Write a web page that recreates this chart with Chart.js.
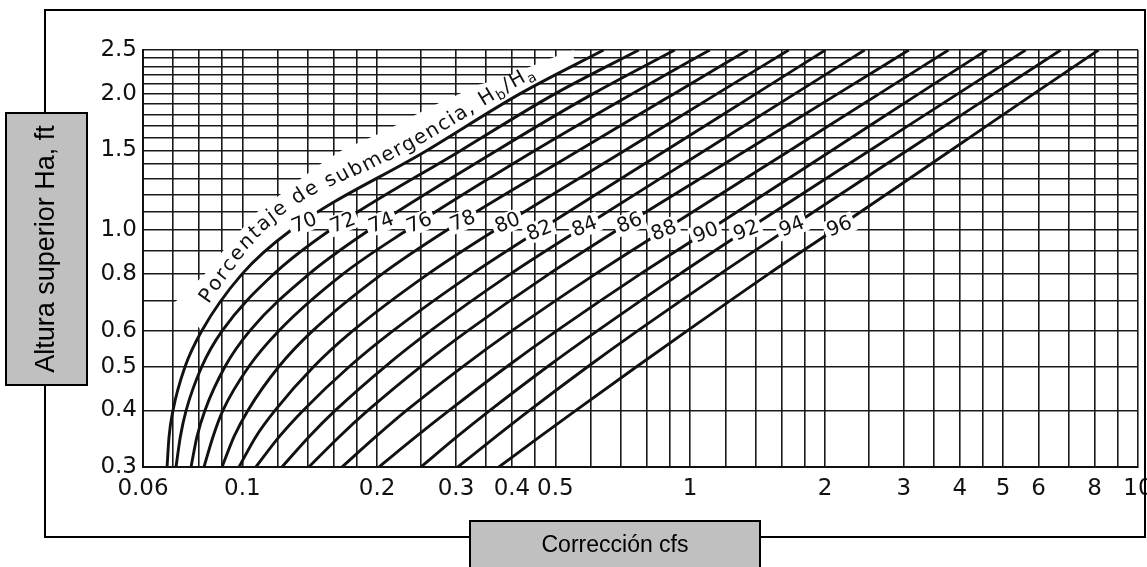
<!DOCTYPE html>
<html><head><meta charset="utf-8">
<script src="https://cdn.jsdelivr.net/npm/chart.js@4.4.1/dist/chart.umd.min.js"></script>
<style>html,body{margin:0;padding:0;background:#fff;}canvas{display:block;}</style>
</head><body>
<canvas id="c" width="1147" height="567"></canvas>
<script>
// ---- data ----
const yLevels = [0.3, 0.35, 0.4, 0.5, 0.6, 0.8, 1.0, 1.5, 2.0, 2.5];
const curve70X = [0.0679,0.0686,0.0700,0.0745,0.0812,0.0998,0.1284,0.2583,0.4165,0.641];
const curve72X = [0.0711,0.0727,0.0749,0.0812,0.0902,0.1175,0.1569,0.3076,0.4986,0.768];
const curve74X = [0.0768,0.0792,0.0825,0.0915,0.1040,0.1408,0.1917,0.370,0.606,0.924];
const curve76X = [0.0821,0.0860,0.0905,0.1034,0.1207,0.1677,0.233,0.450,0.741,1.106];
const curve78X = [0.0901,0.0958,0.1029,0.1207,0.1437,0.205,0.286,0.564,0.919,1.345];
const curve80X = [0.0983,0.1072,0.1183,0.1444,0.1766,0.2596,0.3663,0.7145,1.147,1.66];
const curve82X = [0.1072,0.1209,0.1367,0.1734,0.2172,0.3253,0.4603,0.882,1.401,2.005];
const curve84X = [0.1226,0.1409,0.1613,0.2084,0.2633,0.3965,0.5627,1.078,1.712,2.453];
const curve86X = [0.1408,0.1646,0.1907,0.2502,0.319,0.4835,0.686,1.333,2.135,3.078];
const curve88X = [0.1669,0.1986,0.2326,0.3107,0.4002,0.6137,0.8733,1.669,2.642,3.774];
const curve90X = [0.2018,0.2442,0.2897,0.390,0.504,0.7732,1.100,2.071,3.238,4.593];
const curve92X = [0.2504,0.3016,0.3572,0.4807,0.6214,0.947,1.333,2.517,3.957,5.612];
const curve94X = [0.3028,0.3682,0.4378,0.5914,0.7643,1.165,1.635,3.053,4.761,6.72];
const curve96X = [0.3739,0.4618,0.5558,0.7603,0.986,1.495,2.09,3.817,5.848,8.166];
const curveNames = ['70','72','74','76','78','80','82','84','86','88','90','92','94','96'];
const labelYs = [1.04,1.04,1.04,1.04,1.05,1.04,1.0,1.02,1.04,1.0,0.99,1.0,1.02,1.02];

// white band (upper edge) where the submergence caption sits
const bandTopX = [0.0812,0.0821,0.0896,0.0983,0.1078,0.121,0.1338,0.148,0.167,0.187,0.210,0.238,0.268,0.301,0.334,0.388,0.436,0.496,0.550];
const bandTopY = [0.6,0.796,0.890,0.990,1.096,1.195,1.289,1.392,1.502,1.580,1.663,1.776,1.888,1.986,2.089,2.176,2.290,2.410,2.5];
// lower-left end of the same band
const bandEndX = [0.0812,0.0707,0.0821];
const bandEndY = [0.6,0.693,0.796];

const xGrid = [0.06,0.07,0.08,0.09,0.1,0.12,0.14,0.16,0.18,0.2,0.25,0.3,0.35,0.4,0.45,0.5,0.6,0.7,0.8,0.9,1,1.2,1.4,1.6,1.8,2,2.5,3,3.5,4,4.5,5,6,7,8,9,10];
const yGrid = [0.3,0.4,0.5,0.6,0.7,0.8,0.9,1.0,1.1,1.2,1.3,1.4,1.5,1.6,1.7,1.8,1.9,2.0,2.1,2.2,2.3,2.4,2.5];
const xTickValues = [0.06,0.1,0.2,0.3,0.4,0.5,1,2,3,4,5,6,8,10];
const xTickLabels = ['0.06','0.1','0.2','0.3','0.4','0.5','1','2','3','4','5','6','8','10'];
const yTickValues = [0.3,0.4,0.5,0.6,0.8,1.0,1.5,2.0,2.5];
const yTickLabels = ['0.3','0.4','0.5','0.6','0.8','1.0','1.5','2.0','2.5'];

const captionText = 'Porcentaje de submergencia, H';
const yTitle = 'Altura superior Ha, ft';
const xTitle = 'Corrección cfs';

const curveXs = [curve70X,curve72X,curve74X,curve76X,curve78X,curve80X,curve82X,curve84X,curve86X,curve88X,curve90X,curve92X,curve94X,curve96X];

function lookup(values, labels, v){
  for (let i=0;i<values.length;i++) if (Math.abs(values[i]-v) < 1e-6*Math.max(1,v)) return labels[i];
  return '';
}
function xAtY(xs, y){
  for (let i=0;i<yLevels.length-1;i++){
    const y0=yLevels[i], y1=yLevels[i+1];
    if (y>=y0 && y<=y1){
      const t=(Math.log(y)-Math.log(y0))/(Math.log(y1)-Math.log(y0));
      return Math.exp(Math.log(xs[i])+t*(Math.log(xs[i+1])-Math.log(xs[i])));
    }
  }
  return xs[xs.length-1];
}

const datasets = curveXs.map((arr,i)=>({
  label: curveNames[i],
  data: yLevels.map((y,k)=>({x: arr[k], y: y})),
  borderColor: '#111', borderWidth: 2.9, pointRadius: 0, fill: false,
  cubicInterpolationMode: 'monotone', order: 0
}));
datasets.push({
  label: 'band',
  data: bandTopX.map((x,k)=>({x: x, y: bandTopY[k]})),
  borderWidth: 0, borderColor: 'rgba(0,0,0,0)', backgroundColor: '#ffffff',
  pointRadius: 0, fill: 0, tension: 0, order: 1
});
datasets.push({
  label: 'bandEnd',
  data: bandEndX.map((x,k)=>({x: x, y: bandEndY[k]})),
  borderWidth: 0, borderColor: 'rgba(0,0,0,0)', backgroundColor: '#ffffff',
  pointRadius: 0, fill: 'shape', tension: 0, order: 1
});

function densePath(meta){
  const pts = meta.data, out = [];
  for (let i=0;i<pts.length-1;i++){
    const a=pts[i], b=pts[i+1];
    const p0=[a.x,a.y];
    const p1=[a.cp2x!==undefined?a.cp2x:a.x, a.cp2y!==undefined?a.cp2y:a.y];
    const p2=[b.cp1x!==undefined?b.cp1x:b.x, b.cp1y!==undefined?b.cp1y:b.y];
    const p3=[b.x,b.y];
    for (let k=0;k<30;k++){
      const t=k/30, u=1-t;
      out.push([u*u*u*p0[0]+3*u*u*t*p1[0]+3*u*t*t*p2[0]+t*t*t*p3[0],
                u*u*u*p0[1]+3*u*u*t*p1[1]+3*u*t*t*p2[1]+t*t*t*p3[1]]);
    }
  }
  const l=pts[pts.length-1]; out.push([l.x,l.y]);
  return out;
}

const decor = {
  id: 'decor',
  afterDatasetsDraw(chart){
    const ctx = chart.ctx, xs = chart.scales.x, ys = chart.scales.y;
    ctx.save();
    // caption along the 70 % curve
    const path = densePath(chart.getDatasetMeta(0));
    const cum=[0];
    for (let i=1;i<path.length;i++) cum.push(cum[i-1]+Math.hypot(path[i][0]-path[i-1][0], path[i][1]-path[i-1][1]));
    const yStart = ys.getPixelForValue(0.67), yEnd = ys.getPixelForValue(2.1);
    const yBump = ys.getPixelForValue(labelYs[0]);
    let s0=0, s1=cum[cum.length-1];
    for (let i=0;i<path.length;i++){ if (path[i][1] <= yStart){ s0=cum[i]; break; } }
    for (let i=0;i<path.length;i++){ if (path[i][1] <= yEnd){ s1=cum[i]; break; } }
    const chars = [];
    for (const ch of captionText) chars.push({ch, sub:false});
    chars.push({ch:'b',sub:true},{ch:'/',sub:false},{ch:'H',sub:false},{ch:'a',sub:true});
    const fMain = '20px "DejaVu Sans"', fSub = '14px "DejaVu Sans"';
    let total=0;
    chars.forEach(c=>{ ctx.font = c.sub?fSub:fMain; c.w = ctx.measureText(c.ch).width; total+=c.w; });
    const gap = (s1-s0-total)/(chars.length-1);
    function at(s){
      let i=1; while (i<cum.length-1 && cum[i]<s) i++;
      const t=(s-cum[i-1])/Math.max(1e-9,cum[i]-cum[i-1]);
      const x=path[i-1][0]+t*(path[i][0]-path[i-1][0]);
      const y=path[i-1][1]+t*(path[i][1]-path[i-1][1]);
      const dx=path[i][0]-path[i-1][0], dy=path[i][1]-path[i-1][1];
      const L=Math.hypot(dx,dy)||1;
      return {x,y,ux:dx/L,uy:dy/L};
    }
    let s=s0;
    ctx.fillStyle='#111'; ctx.textAlign='center'; ctx.textBaseline='alphabetic';
    chars.forEach(c=>{
      const sc = s + c.w/2;
      const p = at(sc);
      const nx = p.uy, ny = -p.ux; // normal toward upper-left
      const dd = (p.y - yBump)/42;
      const off = 8 + 10*Math.exp(-dd*dd);
      ctx.save();
      ctx.translate(p.x+nx*off, p.y+ny*off);
      ctx.rotate(Math.atan2(p.uy,p.ux));
      ctx.font = c.sub?fSub:fMain;
      ctx.fillText(c.ch, 0, c.sub?4:0);
      ctx.restore();
      s += c.w + gap;
    });
    // curve labels
    ctx.font = '20px "DejaVu Sans"';
    ctx.textAlign = 'center'; ctx.textBaseline = 'middle';
    curveXs.forEach((arr,i)=>{
      const yv = labelYs[i], xv = xAtY(arr, yv);
      const px = xs.getPixelForValue(xv), py = ys.getPixelForValue(yv);
      ctx.save(); ctx.translate(px,py); ctx.rotate(-22*Math.PI/180);
      const w = ctx.measureText(curveNames[i]).width;
      ctx.fillStyle = '#fff'; ctx.fillRect(-w/2-3,-10,w+6,20);
      ctx.fillStyle = '#111'; ctx.fillText(curveNames[i],0,1);
      ctx.restore();
    });
    ctx.restore();
  },
  afterDraw(chart){
    const ctx = chart.ctx;
    ctx.save();
    ctx.strokeStyle='#000'; ctx.lineWidth=2;
    ctx.strokeRect(45,10,1100,527);
    // y title box
    ctx.fillStyle='#c0c0c0'; ctx.fillRect(6,113,81,272);
    ctx.strokeRect(6,113,81,272);
    // x title box
    ctx.fillRect(470,521,290,60);
    ctx.strokeRect(470,521,290,60);
    ctx.fillStyle='#000';
    ctx.textAlign='center'; ctx.textBaseline='middle';
    ctx.font='23px "Liberation Sans"';
    ctx.fillText(xTitle, 615, 546);
    ctx.font='27px "Liberation Sans"';
    ctx.save(); ctx.translate(47,249); ctx.rotate(-Math.PI/2);
    ctx.fillText(yTitle,0,0); ctx.restore();
    ctx.restore();
  }
};

new Chart(document.getElementById('c'), {
  type: 'line',
  data: { datasets },
  plugins: [decor],
  options: {
    responsive: false, animation: false, devicePixelRatio: 1,
    layout: { padding: { top: 50, right: 9, bottom: 0, left: 0 } },
    plugins: { legend: {display:false}, tooltip: {enabled:false}, filler: {propagate:false} },
    scales: {
      x: {
        type: 'logarithmic', min: 0.06, max: 10,
        afterBuildTicks: (sc)=>{ sc.ticks = xGrid.map(v=>({value:v})); },
        afterFit: (sc)=>{ sc.height = 100; sc.paddingLeft = 0; sc.paddingRight = 0; },
        grid: { color:'#1a1a1a', lineWidth:1.6, drawTicks:false },
        border: { display:true, color:'#111', width:2 },
        ticks: { autoSkip:false, maxRotation:0, padding:8, color:'#111',
          font:{family:'DejaVu Sans', size:23},
          callback: (v)=>lookup(xTickValues, xTickLabels, v) }
      },
      y: {
        type: 'logarithmic', min: 0.3, max: 2.5,
        afterBuildTicks: (sc)=>{ sc.ticks = yGrid.map(v=>({value:v})); },
        afterFit: (sc)=>{ sc.width = 143; sc.paddingTop = 0; sc.paddingBottom = 0; },
        grid: { color:'#1a1a1a', lineWidth:1.6, drawTicks:false },
        border: { display:true, color:'#111', width:2 },
        ticks: { autoSkip:false, padding:6, color:'#111',
          font:{family:'DejaVu Sans', size:23},
          callback: (v)=>lookup(yTickValues, yTickLabels, v) }
      }
    }
  }
});
</script>
</body></html>
